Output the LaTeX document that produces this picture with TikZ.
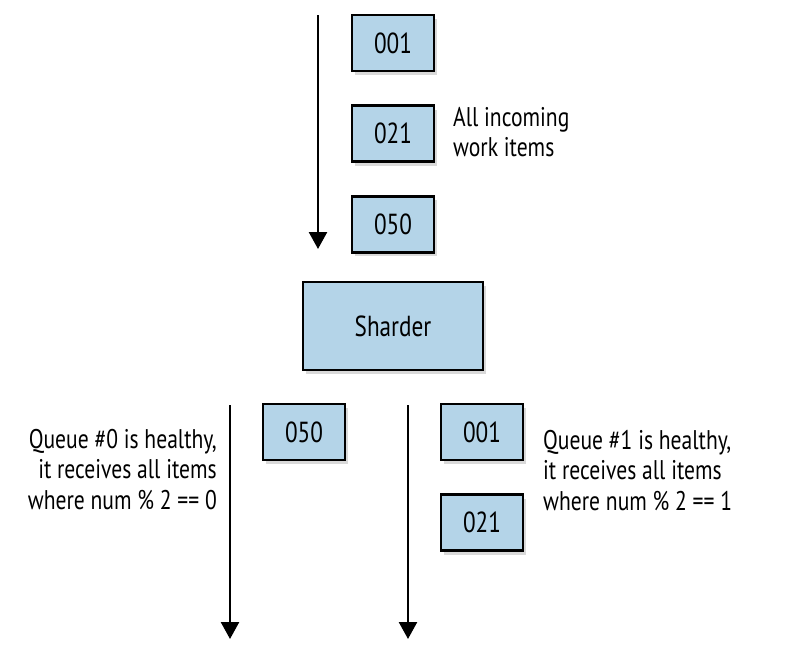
\documentclass[tikz,border=0pt]{standalone}
\usepackage{fontspec}
\setmainfont{PT Sans}[FakeStretch=0.8]
\usepackage{tikz}
\usetikzlibrary{positioning,arrows.meta,shadows}
\definecolor{itemblue}{RGB}{180,212,232}

\begin{document}
\begin{tikzpicture}[
        x=1pt, y=-1pt,
        font=\fontsize{27}{30.5}\selectfont,
        >={Triangle[width=18pt,length=17pt]},
        node distance=32pt,
        item/.style={draw, line width=2.6pt, fill=itemblue, minimum width=82pt, minimum height=56pt,
            font=\fontsize{29}{32}\selectfont,
            drop shadow={shadow xshift=3pt, shadow yshift=-4pt, opacity=0.3}},
        flow/.style={->, line width=2.5pt},
        lab/.style={inner sep=0pt}
    ]
        \useasboundingbox (0,0) rectangle (797,665);

        % Incoming items
        \node[item] (in1) at (393,43) {001};
        \node[item, below=32pt of in1] (in2) {021};
        \node[item, below=32pt of in2] (in3) {050};
        \node[lab, align=left, anchor=west] (lin) at (453,132) {All incoming\\work items};

        \coordinate (intop) at (318,15);
        \coordinate (inend) at (318,249);
        \draw[flow] (intop) -- (inend);

        % Sharder
        \node[item, minimum width=180pt, minimum height=88pt] (sharder) at (393,326) {Sharder};

        % Queue #0
        \node[item] (q0a) at (304,432) {050};
        \coordinate (q0top) at (230,405);
        \coordinate (q0end) at (230,639);
        \draw[flow] (q0top) -- (q0end);
        \node[lab, align=right, anchor=north east] (lq0) at (217,429)
            {Queue \#0 is healthy,\\it receives all items\\where num \% 2 == 0};

        % Queue #1
        \node[item] (q1a) at (482,432) {001};
        \node[item, below=32pt of q1a] (q1b) {021};
        \coordinate (q1top) at (408,405);
        \coordinate (q1end) at (408,639);
        \draw[flow] (q1top) -- (q1end);
        \node[lab, align=left, anchor=north west] (lq1) at (543,430)
            {Queue \#1 is healthy,\\it receives all items\\where num \% 2 == 1};
    \end{tikzpicture}
\end{document}
